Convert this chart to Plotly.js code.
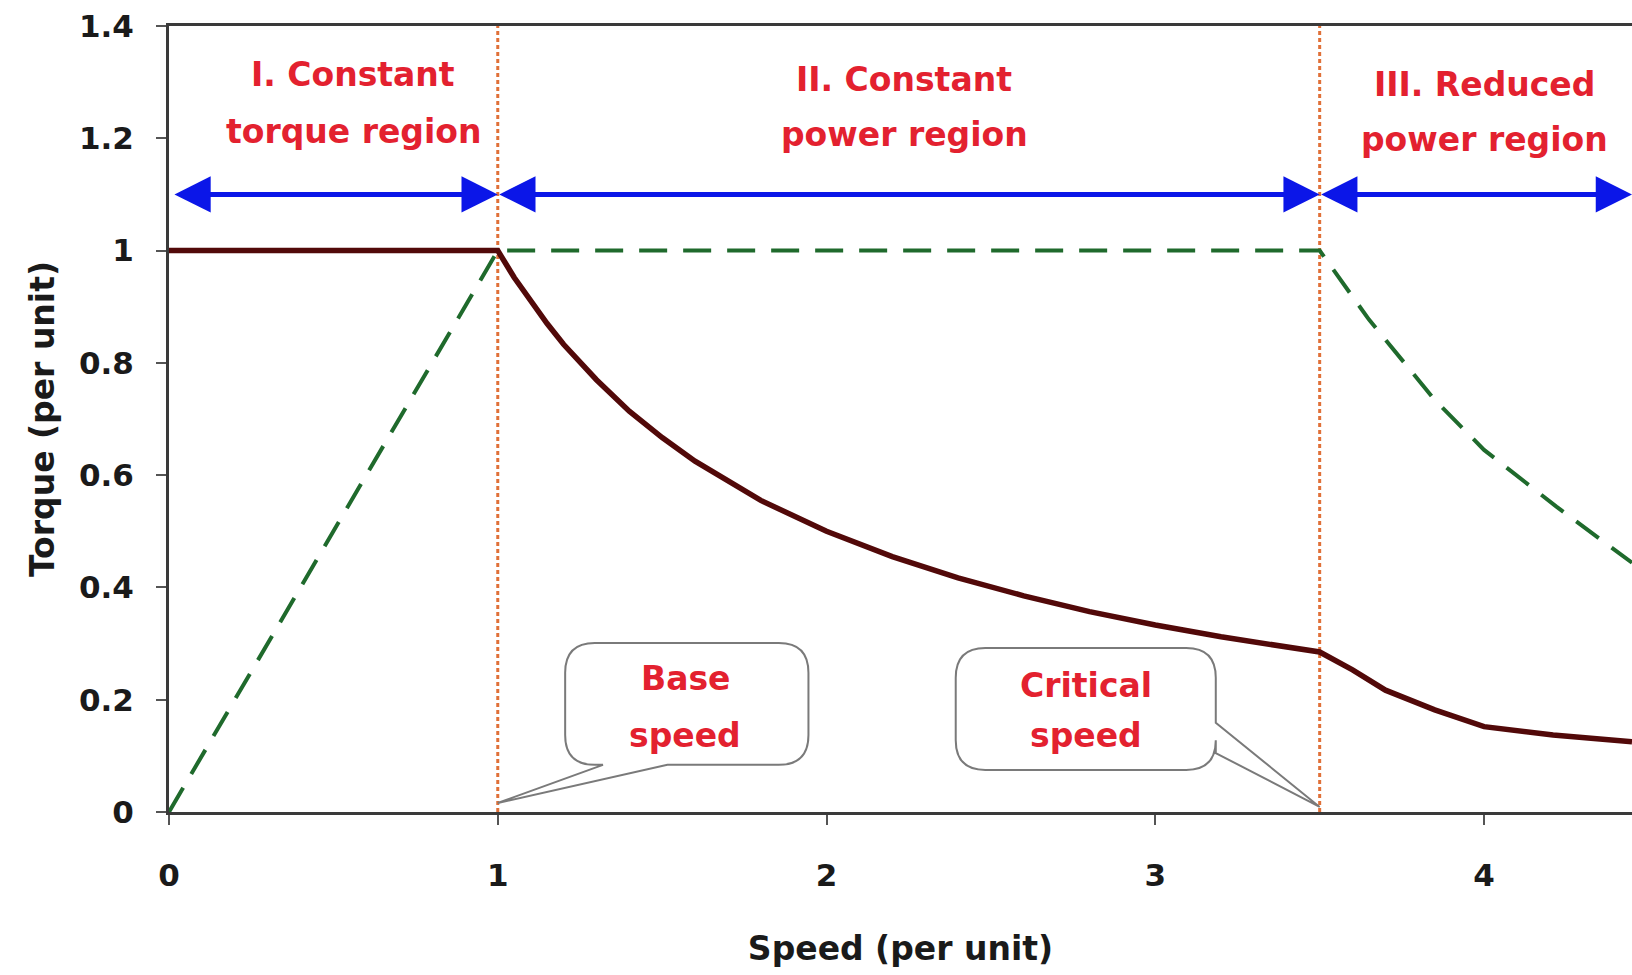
<!DOCTYPE html>
<html><head><meta charset="utf-8">
<script src="https://cdn.plot.ly/plotly-3.0.1.min.js"></script>
<style>html,body{margin:0;padding:0;background:#fff;overflow:hidden}</style>
</head><body><div id="chart" style="width:1632px;height:975px"></div>
<script>
// ---- data ----
const torqueSpeed  = [0, 1, 1.05, 1.1, 1.15, 1.2, 1.25, 1.3, 1.4, 1.5, 1.6, 1.8, 2.0, 2.2, 2.4, 2.6, 2.8, 3.0, 3.2, 3.4, 3.5, 3.6, 3.7, 3.85, 4.0, 4.21, 4.45];
const torqueValues = [1, 1, 0.952, 0.91, 0.87, 0.833, 0.8, 0.77, 0.714, 0.667, 0.625, 0.555, 0.5, 0.455, 0.417, 0.385, 0.357, 0.333, 0.312, 0.294, 0.285, 0.253, 0.217, 0.182, 0.152, 0.137, 0.125];
const powerSpeed   = [0, 1, 3.5, 3.65, 3.85, 4.0, 4.22, 4.45];
const powerValues  = [0, 1, 1, 0.877, 0.734, 0.645, 0.544, 0.444];
const regionBounds = [1, 3.5];
const regionStart  = [0.012, 1, 3.5];
const regionEnd    = [1, 3.5, 4.45];
const regionArrowY = 1.1;
const regionLine1  = ["I. Constant", "II. Constant", "III. Reduced"];
const regionLine2  = ["torque region", "power region", "power region"];
const xTickVals    = [0, 1, 2, 3, 4];
const calloutLine1 = ["Base", "Critical"];
const calloutLine2 = ["speed", "speed"];
const calloutTarget = [1, 3.5];

// ---- styling / layout positions ----
const RED = '#e3212f';
const FONT = 'DejaVu Sans, Arial, sans-serif';
const regionCx = [0.56, 2.237, 4.0];
const regionY1 = [1.314, 1.305, 1.296];
const regionY2 = [1.212, 1.207, 1.198];

const traces = [
  {x: powerSpeed, y: powerValues, mode: 'lines', hoverinfo: 'skip',
   line: {color: '#1f6a2c', width: 4, dash: '28px,16px'}},
  {x: torqueSpeed, y: torqueValues, mode: 'lines', hoverinfo: 'skip',
   line: {color: '#520909', width: 5.5}}
];

const shapes = regionBounds.map(b => ({
  type: 'line', xref: 'x', yref: 'y', x0: b, x1: b, y0: 0, y1: 1.4, layer: 'below',
  line: {color: '#e07038', width: 3, dash: '4px,3px'}
}));

// callout bubbles (rounded rectangles with a tail pointing at the target speed)
function bubbleBottomTail(x0, x1, y0, y1, rx, ry, xa, xb, tx, ty) {
  return `M${x0+rx},${y1} L${x1-rx},${y1} Q${x1},${y1} ${x1},${y1-ry} L${x1},${y0+ry} Q${x1},${y0} ${x1-rx},${y0} ` +
         `L${xb},${y0} L${tx},${ty} L${xa},${y0} L${x0+rx},${y0} Q${x0},${y0} ${x0},${y0+ry} L${x0},${y1-ry} Q${x0},${y1} ${x0+rx},${y1} Z`;
}
function bubbleRightTail(x0, x1, y0, y1, rx, ry, ya, yb, tx, ty) {
  return `M${x0+rx},${y1} L${x1-rx},${y1} Q${x1},${y1} ${x1},${y1-ry} L${x1},${ya} L${tx},${ty} L${x1},${yb} ` +
         `L${x1},${y0+ry} Q${x1},${y0} ${x1-rx},${y0} L${x0+rx},${y0} Q${x0},${y0} ${x0},${y0+ry} L${x0},${y1-ry} Q${x0},${y1} ${x0+rx},${y1} Z`;
}
shapes.push({type: 'path', xref: 'x', yref: 'y', layer: 'above', fillcolor: '#ffffff',
  line: {color: '#7a7a7a', width: 2},
  path: bubbleBottomTail(1.205, 1.945, 0.084, 0.301, 0.09, 0.053, 1.32, 1.516, calloutTarget[0], 0.016)});
shapes.push({type: 'path', xref: 'x', yref: 'y', layer: 'above', fillcolor: '#ffffff',
  line: {color: '#7a7a7a', width: 2},
  path: bubbleRightTail(2.393, 3.184, 0.075, 0.292, 0.09, 0.053, 0.159, 0.105, calloutTarget[1], 0.009)});

const annotations = [];
// double-headed region arrows
regionStart.forEach((s, i) => {
  annotations.push({xref: 'x', yref: 'y', axref: 'x', ayref: 'y',
    x: regionEnd[i], y: regionArrowY, ax: s, ay: regionArrowY, text: '',
    showarrow: true, arrowside: 'end+start', arrowhead: 2, startarrowhead: 2,
    arrowsize: 1.45, startarrowsize: 1.45, arrowwidth: 5, arrowcolor: '#0b16e8',
    standoff: 0, startstandoff: 0});
});
// region labels
regionLine1.forEach((t, i) => {
  annotations.push({xref: 'x', yref: 'y', x: regionCx[i], y: regionY1[i], text: t, showarrow: false,
    font: {family: FONT, size: 33, color: RED, weight: 'bold'}});
  annotations.push({xref: 'x', yref: 'y', x: regionCx[i], y: regionY2[i], text: regionLine2[i], showarrow: false,
    font: {family: FONT, size: 33, color: RED, weight: 'bold'}});
});
// callout texts
const calloutCx = [1.571, 2.788];
const calloutY1 = [0.237, 0.225];
const calloutY2 = [0.136, 0.136];
calloutLine1.forEach((t, i) => {
  annotations.push({xref: 'x', yref: 'y', x: calloutCx[i], y: calloutY1[i], text: t, showarrow: false,
    font: {family: FONT, size: 33, color: RED, weight: 'bold'}});
  annotations.push({xref: 'x', yref: 'y', x: calloutCx[i], y: calloutY2[i], text: calloutLine2[i], showarrow: false,
    font: {family: FONT, size: 33, color: RED, weight: 'bold'}});
});

const layout = {
  width: 1632, height: 975,
  margin: {l: 169, r: 0, t: 26, b: 163, pad: 0},
  paper_bgcolor: '#ffffff', plot_bgcolor: '#ffffff',
  showlegend: false,
  font: {family: FONT, color: '#1a1a1a'},
  xaxis: {range: [0, 4.45], tickmode: 'array', tickvals: xTickVals, ticks: 'outside', ticklen: 10,
    tickwidth: 2, tickcolor: '#555', showline: true, linecolor: '#3a3a3a', linewidth: 3, mirror: true,
    showgrid: false, zeroline: false, automargin: false, ticklabelstandoff: 24,
    tickfont: {family: FONT, size: 31, color: '#1a1a1a', weight: 'bold'},
    title: {text: 'Speed (per unit)', standoff: 45, font: {family: FONT, size: 33, color: '#1a1a1a', weight: 'bold'}}},
  yaxis: {range: [0, 1.4], tick0: 0, dtick: 0.2, ticks: 'outside', ticklen: 10,
    tickwidth: 2, tickcolor: '#555', showline: true, linecolor: '#3a3a3a', linewidth: 3, mirror: false,
    showgrid: false, zeroline: false, automargin: false, ticklabelstandoff: 16,
    tickfont: {family: FONT, size: 31, color: '#1a1a1a', weight: 'bold'},
    title: {text: 'Torque (per unit)', standoff: 15, font: {family: FONT, size: 33, color: '#1a1a1a', weight: 'bold'}}},
  shapes: shapes,
  annotations: annotations
};

Plotly.newPlot('chart', traces, layout, {displayModeBar: false, staticPlot: true});
</script>
</body></html>
